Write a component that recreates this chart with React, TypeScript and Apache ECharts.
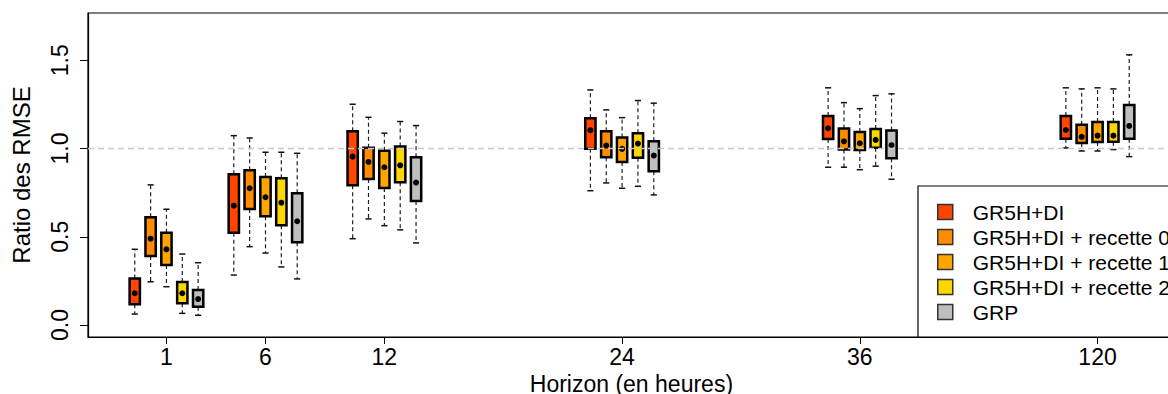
import React, { useEffect, useRef } from "react";
import * as echarts from "echarts";

// Forecast horizons: positions on the x scale and the labels shown under them
const groupPositions = [1, 6, 12, 24, 36, 48];
const groupLabels = ["1", "6", "12", "24", "36", "120"];

const seriesNames = [
  "GR5H+DI",
  "GR5H+DI + recette 0",
  "GR5H+DI + recette 1",
  "GR5H+DI + recette 2",
  "GRP",
];
const seriesColors = ["#FF4500", "#FF8C00", "#FFA500", "#FFD700", "#BEBEBE"];
// horizontal shift of each model's box around its horizon (x units)
const seriesOffsets = [-1.6, -0.8, 0, 0.8, 1.6];

// each row: [lower whisker, Q1, median, Q3, upper whisker], one row per horizon
const gr5hdi = [
  [0.062, 0.118, 0.18, 0.263, 0.429],
  [0.283, 0.523, 0.676, 0.854, 1.073],
  [0.489, 0.792, 0.954, 1.098, 1.251],
  [0.761, 0.999, 1.104, 1.172, 1.332],
  [0.894, 1.054, 1.115, 1.185, 1.344],
  [1.003, 1.056, 1.105, 1.185, 1.344],
];
const recette0 = [
  [0.245, 0.391, 0.489, 0.611, 0.794],
  [0.444, 0.658, 0.775, 0.877, 1.06],
  [0.601, 0.828, 0.924, 1.005, 1.177],
  [0.805, 0.951, 1.017, 1.098, 1.219],
  [0.894, 0.994, 1.041, 1.113, 1.26],
  [0.986, 1.032, 1.066, 1.135, 1.338],
];
const recette1 = [
  [0.217, 0.34, 0.429, 0.523, 0.656],
  [0.408, 0.616, 0.724, 0.839, 0.979],
  [0.563, 0.777, 0.894, 0.988, 1.087],
  [0.775, 0.924, 0.998, 1.062, 1.175],
  [0.88, 0.992, 1.03, 1.094, 1.226],
  [0.986, 1.037, 1.073, 1.151, 1.344],
];
const recette2 = [
  [0.066, 0.123, 0.18, 0.244, 0.402],
  [0.329, 0.565, 0.693, 0.832, 0.979],
  [0.539, 0.809, 0.905, 1.011, 1.153],
  [0.786, 0.948, 1.028, 1.087, 1.272],
  [0.9, 1.005, 1.049, 1.111, 1.3],
  [0.994, 1.039, 1.073, 1.151, 1.338],
];
const grp = [
  [0.055, 0.104, 0.147, 0.198, 0.353],
  [0.261, 0.469, 0.588, 0.747, 0.973],
  [0.465, 0.703, 0.807, 0.951, 1.13],
  [0.737, 0.871, 0.96, 1.041, 1.257],
  [0.826, 0.945, 1.019, 1.102, 1.31],
  [0.954, 1.056, 1.128, 1.247, 1.531],
];

const yTicks = [0, 0.5, 1.0, 1.5];
const referenceRatio = 1;

const FONT = "'Liberation Sans', Arial, sans-serif";

export default function App() {
  const ref = useRef<HTMLDivElement>(null);

  useEffect(() => {
    document.body.style.margin = "0";
    const chart = echarts.init(ref.current as HTMLDivElement, null, {
      renderer: "svg",
    });

    const allStats = [gr5hdi, recette0, recette1, recette2, grp];

    const series: any[] = allStats.map((stats, si) => ({
      type: "custom",
      name: seriesNames[si],
      itemStyle: { color: seriesColors[si] },
      data: stats.map((s, gi) => [groupPositions[gi], ...s]),
      encode: { x: 0, y: [1, 2, 3, 4, 5] },
      z: 2,
      renderItem: (params: any, api: any) => {
        const x = api.value(0) + seriesOffsets[si];
        const pLow = api.coord([x, api.value(1)]);
        const pQ1 = api.coord([x, api.value(2)]);
        const pMed = api.coord([x, api.value(3)]);
        const pQ3 = api.coord([x, api.value(4)]);
        const pHigh = api.coord([x, api.value(5)]);
        const px = pMed[0];
        const boxW = api.size([0.52, 0])[0];
        const capW = boxW / 2 + 1;
        const whisker = { stroke: "#222", lineWidth: 1.2, lineDash: [4, 3] };
        const cap = { stroke: "#111", lineWidth: 1.5 };
        return {
          type: "group",
          children: [
            {
              type: "line",
              shape: { x1: px, y1: pQ3[1], x2: px, y2: pHigh[1] },
              style: whisker,
            },
            {
              type: "line",
              shape: { x1: px, y1: pQ1[1], x2: px, y2: pLow[1] },
              style: whisker,
            },
            {
              type: "line",
              shape: { x1: px - capW / 2, y1: pHigh[1], x2: px + capW / 2, y2: pHigh[1] },
              style: cap,
            },
            {
              type: "line",
              shape: { x1: px - capW / 2, y1: pLow[1], x2: px + capW / 2, y2: pLow[1] },
              style: cap,
            },
            {
              type: "rect",
              shape: {
                x: px - boxW / 2,
                y: pQ3[1],
                width: boxW,
                height: pQ1[1] - pQ3[1],
              },
              style: { fill: seriesColors[si], stroke: "#000", lineWidth: 2.5 },
            },
            {
              type: "circle",
              shape: { cx: px, cy: pMed[1], r: 3 },
              style: { fill: "#000" },
            },
          ],
        };
      },
    }));

    // dashed reference line at a ratio of 1
    series[series.length - 1].markLine = {
      silent: true,
      symbol: "none",
      z: 5,
      label: { show: false },
      lineStyle: { type: [6, 4], color: "#c8c8c8", width: 1.3 },
      data: [{ yAxis: referenceRatio }],
    };

    chart.setOption({
      animation: false,
      grid: {
        left: 88,
        top: 13,
        width: 1086.8,
        height: 324,
        outerBoundsMode: "none",
        containLabel: false,
        show: true,
        borderColor: "#000",
        borderWidth: 1.2,
      },
      xAxis: {
        type: "value",
        min: -2.96,
        max: 51.9,
        axisLine: { show: true, onZero: false, lineStyle: { color: "#000", width: 1.2 } },
        axisTick: {
          show: true,
          customValues: groupPositions,
          length: 7,
          lineStyle: { color: "#000" },
        },
        axisLabel: {
          customValues: groupPositions,
          formatter: (v: number) => {
            const i = groupPositions.indexOf(v);
            return i >= 0 ? groupLabels[i] : "";
          },
          fontSize: 23,
          fontFamily: FONT,
          color: "#000",
          margin: 8,
        },
        splitLine: { show: false },
        name: "Horizon (en heures)",
        nameLocation: "middle",
        nameGap: 30,
        nameTextStyle: { fontSize: 23, fontFamily: FONT, color: "#000" },
      },
      yAxis: {
        type: "value",
        min: -0.068,
        max: 1.768,
        axisLine: { show: true, onZero: false, lineStyle: { color: "#000", width: 1.2 } },
        axisTick: {
          show: true,
          customValues: yTicks,
          length: 8,
          lineStyle: { color: "#000" },
        },
        axisLabel: {
          customValues: yTicks,
          formatter: (v: number) => v.toFixed(1),
          rotate: 90,
          fontSize: 23,
          fontFamily: FONT,
          color: "#000",
          margin: 17,
        },
        splitLine: { show: false },
        name: "Ratio des RMSE",
        nameLocation: "middle",
        nameRotate: 90,
        nameGap: 55,
        nameTextStyle: { fontSize: 24, fontFamily: FONT, color: "#000" },
      },
      legend: {
        data: seriesNames,
        left: 918,
        top: 186,
        orient: "vertical",
        icon: "rect",
        itemWidth: 15,
        itemHeight: 15,
        itemGap: 4,
        padding: [15.5, 20, 14.5, 19],
        borderColor: "#000",
        borderWidth: 1.2,
        backgroundColor: "#fff",
        z: 10,
        itemStyle: { borderColor: "#333", borderWidth: 1.5 },
        textStyle: {
          fontSize: 21,
          lineHeight: 21,
          color: "#000",
          fontFamily: FONT,
          padding: [0, 0, 0, 15],
        },
      },
      series,
    });

    return () => chart.dispose();
  }, []);

  return <div ref={ref} style={{ width: 1168, height: 394 }} />;
}
